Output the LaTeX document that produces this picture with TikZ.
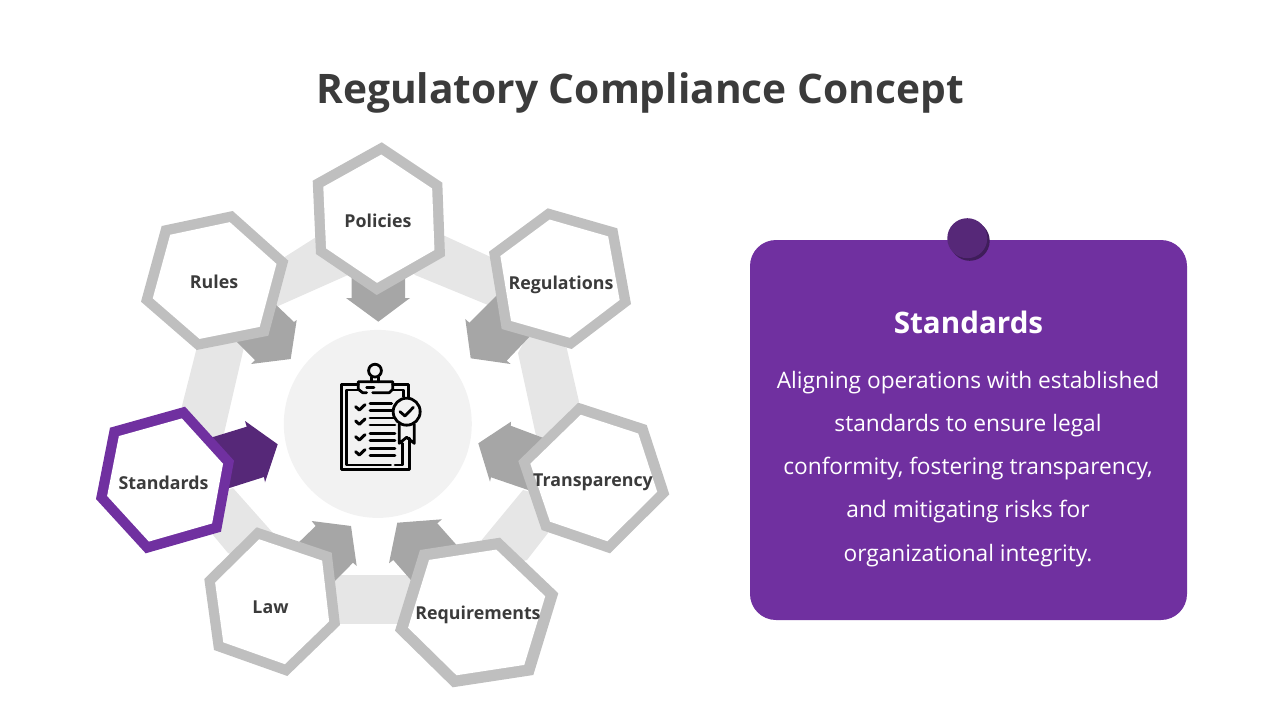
\documentclass[tikz,border=0pt]{standalone}
\usepackage{fontspec}
\setmainfont{Open Sans}
\usetikzlibrary{calc}
\definecolor{hexgrey}{HTML}{BFBFBF}
\definecolor{arrowgrey}{HTML}{A6A6A6}
\definecolor{bandgrey}{HTML}{E6E6E6}
\definecolor{hubgrey}{HTML}{F2F2F2}
\definecolor{ink}{HTML}{3B3B3B}
\definecolor{brand}{HTML}{7030A0}
\definecolor{branddark}{HTML}{562878}
\definecolor{brandshade}{HTML}{3F1D5A}
\tikzset{
  band/.style={fill=bandgrey,draw=none},
  pointer/.style={fill=arrowgrey,draw=none},
  hexlabel/.style={font=\fontsize{17.8}{22}\selectfont\bfseries,text=ink,inner sep=0pt},
  icon/.style={draw=black,line width=2.8pt,line cap=round,line join=round},
}
\newcommand\hexg[8]{%
  \fill[#1] (#3) -- (#4) -- (#5) -- (#6) -- (#7) -- (#8) -- cycle;
  \fill[white] ($(#2)!.84!(#3)$) -- ($(#2)!.84!(#4)$) -- ($(#2)!.84!(#5)$) -- ($(#2)!.84!(#6)$) -- ($(#2)!.84!(#7)$) -- ($(#2)!.84!(#8)$) -- cycle;
}
\begin{document}
\begin{tikzpicture}[x=1pt,y=-1pt]
\useasboundingbox (0,0) rectangle (1280,720);
\node[font=\fontsize{40.7}{48}\selectfont\bfseries,text=ink,inner sep=0pt] (title) at (640,92.5) {Regulatory Compliance Concept};

% ring bands
\fill[band] (445,236) -- (495,259) -- (505,312) -- (415,275) -- (380,240) -- cycle;
\fill[band] (566.7,348) -- (579,401.7) -- (560,440) -- (543,468) -- (518,353) -- (530,330) -- cycle;
\fill[band] (523,490) -- (481.7,540) -- (490,570) -- (527,560) -- (548,533) -- (560,500) -- cycle;
\fill[band] (320,575) -- (430,575) -- (430,624) -- (320,624) -- cycle;
\fill[band] (233,488) -- (273,533) -- (270,570) -- (228,553) -- (213,535) -- (200,500) -- cycle;
\fill[band] (196.7,348) -- (181.7,407) -- (190,440) -- (216,468) -- (244,347) -- (220,330) -- cycle;
\fill[band] (280,260) -- (316.7,236.7) -- (350,230) -- (348,275) -- (276.7,306.7) -- (250,290) -- cycle;

% hub
\fill[hubgrey] (377.8,423.9) circle (94);

% pointers
\fill[pointer] (351.7,270) -- (351.7,298) -- (346,298) -- (378.3,321.7) -- (410,298) -- (405,298) -- (405,270) -- cycle;
\fill[pointer] (272,301) -- (294,322) -- (296.7,320) -- (290.7,359) -- (251,364) -- (255,360) -- (232,337) -- cycle;
\fill[pointer] (501,291) -- (469.3,322.7) -- (465.3,319) -- (470.7,358.3) -- (510.7,364) -- (506.7,360.7) -- (535,331) -- cycle;
\fill[branddark] (205,439.5) -- (246.7,426.7) -- (245,421) -- (277.7,444.3) -- (265,482.3) -- (264,477) -- (220,491) -- cycle;
\fill[pointer] (294,547) -- (315.7,526) -- (311.7,521) -- (351,526) -- (356.7,566) -- (353,562.7) -- (329,587) -- cycle;
\fill[pointer] (461,550) -- (437.3,523.3) -- (442,519.3) -- (397.3,522.7) -- (389,563.3) -- (393.3,560) -- (417,587) -- cycle;
\fill[pointer] (548,439.7) -- (510.7,425.7) -- (511,421.7) -- (478.3,443.3) -- (490,481.7) -- (491,477.3) -- (534,492) -- cycle;

% hexagons
\coordinate (cPol) at (379,219);
\coordinate (cReg) at (560,278.7);
\coordinate (cTra) at (593.6,478);
\coordinate (cReq) at (476.7,612);
\coordinate (cLaw) at (272,602);
\coordinate (cSta) at (165.5,480);
\coordinate (cRul) at (214.5,280.7);
\hexg{hexgrey}{cPol}{381.7,142.3}{442.3,182.7}{445,256}{376.7,295}{316,254}{312.7,180.7}
\hexg{hexgrey}{cReg}{547.7,208.3}{617.3,228.3}{631,304}{571.7,349}{501.7,329}{489,251.7}
\hexg{hexgrey}{cTra}{578.3,402.7}{646.7,425}{669.3,494.3}{610,553.3}{541.7,530}{518.3,461}
\hexg{hexgrey}{cReq}{500,537.7}{558.3,593.3}{533.3,675}{452.7,687.3}{395,630.7}{420,550}
\hexg{hexgrey}{cLaw}{256.7,527.3}{331.7,552.7}{340,625}{287.3,676}{214,650}{204.3,579}
\hexg{brand}{cSta}{185,406.7}{234,460.7}{221,531.7}{145.7,553.3}{96,499}{110,427.7}
\hexg{hexgrey}{cRul}{232.7,211}{288.3,260.7}{268.3,335.7}{196.7,350}{141,301.7}{161.7,226}

\node[hexlabel] (policies) at (378,220.5) {Policies};
\node[hexlabel] (regulations) at (561,285) {Regulations};
\node[hexlabel] (transparency) at (593,482) {Transparency};
\node[hexlabel] (requirements) at (478,615) {Requirements};
\node[hexlabel] (law) at (270.5,607) {Law};
\node[hexlabel] (standards) at (163.5,483) {Standards};
\node[hexlabel] (rules) at (214,282) {Rules};

% clipboard icon
\begin{scope}[shift={(320,350)},x=0.3333pt,y=-0.3333pt]
  \draw[icon] (165,62) circle (6.4pt);
  \draw[icon] (155,82) -- (155,95) (175,82) -- (175,95);
  \draw[icon] (140,128) -- (128,128) -- (115,118) -- (115,95) -- (218,95) -- (218,118) -- (208,128) -- (158,128);
  \draw[icon] (140,112) -- (162,112);
  \draw[icon] (115,103) -- (65,103) -- (65,358) -- (268,358) -- (268,265);
  \draw[icon] (218,103) -- (265,103) -- (265,140);
  \draw[icon] (115,120) -- (80,120) -- (80,345) -- (212,345);
  \draw[icon] (225,345) -- (248,345) -- (248,280);
  \draw[icon] (218,120) -- (250,120) -- (250,140);
  \foreach \yy/\xe in {172/215,215/225,262/225,307/225}{
    \draw[icon,line width=3pt] (107,\yy-2) -- (118,\yy+8) -- (135,\yy-8);
    \draw[icon] (150,\yy-11) -- (\xe,\yy-11) (150,\yy+10) -- (\xe,\yy+10);
  }
  \draw[icon,fill=hubgrey] (260,185) circle (13.5pt);
  \draw[icon] (240,185) -- (255,198) -- (280,172);
  \draw[icon] (238,222) -- (238,280) -- (260,262) -- (283,280) -- (283,222);
\end{scope}

% panel
\fill[brand,rounded corners=26pt] (750,240) rectangle (1187,620);
\fill[brandshade] (969.7,240.8) circle (20);
\fill[branddark] (967.3,238.2) circle (20);
\node[font=\fontsize{29.6}{36}\selectfont\bfseries,text=white,inner sep=0pt] (head) at (968.5,322.5) {Standards};
\foreach \nm/\yy/\tx in {a/382.5/{Aligning operations with established},b/425.5/{standards to ensure legal},c/468.5/{conformity, fostering transparency,},d/512/{and mitigating risks for},e/555.5/{organizational integrity.}}{
  \node[font=\fontsize{22.7}{28}\selectfont,text=white,inner sep=0pt] (body\nm) at (968,\yy) {\tx};
}
\end{tikzpicture}
\end{document}
